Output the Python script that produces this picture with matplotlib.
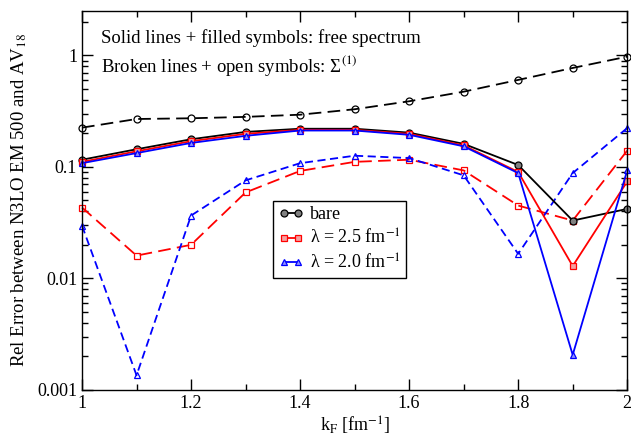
import matplotlib
matplotlib.use("Agg")
import matplotlib.pyplot as plt
from matplotlib.ticker import LogLocator, MultipleLocator, FixedFormatter, FixedLocator, NullFormatter

plt.rcParams["font.family"] = ["Liberation Serif", "DejaVu Serif"]
plt.rcParams["mathtext.fontset"] = "stix"

kf = [1.0, 1.1, 1.2, 1.3, 1.4, 1.5, 1.6, 1.7, 1.8, 1.9, 2.0]

# solid lines, filled symbols: free spectrum
bare_free = [0.116, 0.144, 0.177, 0.206, 0.220, 0.220, 0.203, 0.161, 0.104, 0.033, 0.042]
l25_free = [0.111, 0.138, 0.170, 0.198, 0.215, 0.215, 0.198, 0.156, 0.090, 0.0129, 0.074]
l20_free = [0.108, 0.133, 0.164, 0.190, 0.212, 0.212, 0.194, 0.153, 0.088, 0.00206, 0.093]

# broken lines, open symbols: Sigma^(1)
bare_sig = [0.225, 0.269, 0.273, 0.281, 0.294, 0.329, 0.388, 0.473, 0.603, 0.772, 0.975]
l25_sig = [0.0432, 0.016, 0.020, 0.059, 0.092, 0.111, 0.116, 0.093, 0.045, 0.033, 0.14]
l20_sig = [0.0297, 0.00135, 0.0366, 0.0757, 0.108, 0.126, 0.120, 0.084, 0.0166, 0.088, 0.223]

xticks = [1.0, 1.2, 1.4, 1.6, 1.8, 2.0]
xtick_labels = ["1", "1.2", "1.4", "1.6", "1.8", "2"]
yticks = [0.001, 0.01, 0.1, 1]
ytick_labels = ["0.001", "0.01", "0.1", "1"]

fig = plt.figure(figsize=(6.31, 4.43), dpi=100)
ax = fig.add_axes([0.130, 0.120, 0.864, 0.855])

common = dict(lw=1.3, ms=5, mew=0.9, clip_on=False)
ax.plot(kf, bare_sig, color="black", ls=(0, (7, 3.5)), marker="o",
        mfc="none", mec="black", **common)
ax.plot(kf, l25_sig, color="red", ls=(0, (7, 3.5)), marker="s",
        mfc="none", mec="red", **common)
ax.plot(kf, l20_sig, color="blue", ls=(0, (4.5, 2.5)), marker="^",
        mfc="none", mec="blue", **common)

ax.plot(kf, bare_free, color="black", marker="o", mfc="#808080", mec="black",
        label="bare", **common)
ax.plot(kf, l25_free, color="red", marker="s", mfc="#f4a0a0", mec="red",
        label="λ = 2.5 fm$^{-1}$", **common)
ax.plot(kf, l20_free, color="blue", marker="^", mfc="#9090ff", mec="blue",
        label="λ = 2.0 fm$^{-1}$", **common)

ax.set_yscale("log")
ax.set_xlim(1, 2)
ax.set_ylim(0.001, 2.5)

ax.xaxis.set_major_locator(FixedLocator(xticks))
ax.xaxis.set_major_formatter(FixedFormatter(xtick_labels))
ax.xaxis.set_minor_locator(MultipleLocator(0.1))

ax.yaxis.set_major_locator(FixedLocator(yticks))
ax.yaxis.set_major_formatter(FixedFormatter(ytick_labels))
ax.yaxis.set_minor_locator(LogLocator(base=10, subs=[2, 3, 4, 5, 6, 7, 8, 9]))
ax.yaxis.set_minor_formatter(NullFormatter())

ax.tick_params(which="both", direction="in", top=True, right=True, labelsize=13)
ax.tick_params(which="major", length=8, width=1)
ax.tick_params(which="minor", length=4, width=1)
for s in ax.spines.values():
    s.set_linewidth(1.0)

ax.set_xlabel(r"k$_\mathrm{F}$ [fm$^{-1}$]", fontsize=13, labelpad=2)
ax.set_ylabel(r"Rel Error between N3LO EM 500 and AV$_{18}$", fontsize=13.5, labelpad=6)

ax.text(0.035, 0.915, "Solid lines + filled symbols: free spectrum",
        transform=ax.transAxes, fontsize=13.5)
ax.text(0.035, 0.84, "Broken lines + open symbols: Σ$^{(1)}$",
        transform=ax.transAxes, fontsize=13.5)

leg = ax.legend(loc="upper left", bbox_to_anchor=(0.350, 0.499), fontsize=13,
                frameon=True, fancybox=False, edgecolor="black", framealpha=1,
                numpoints=2, handlelength=1.4, handletextpad=0.35, borderpad=0.3,
                labelspacing=0.3, borderaxespad=0)
leg.get_frame().set_linewidth(1.0)

fig.savefig("out.png", dpi=100)
